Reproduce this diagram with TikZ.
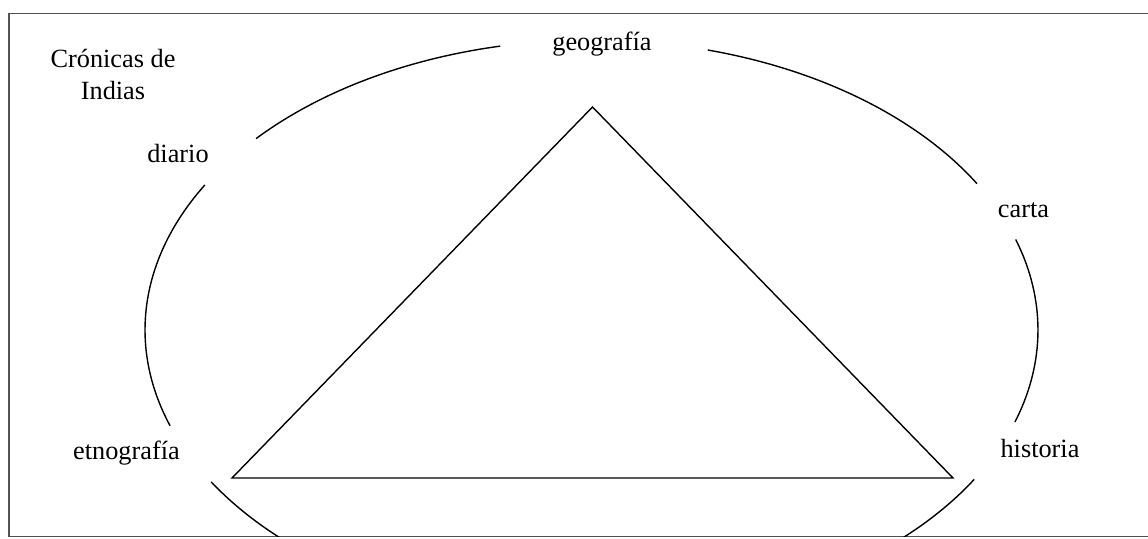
\documentclass[tikz,border=0pt]{standalone}
\usepackage{fontspec}
\setmainfont{Liberation Serif}
\usetikzlibrary{calc}
\begin{document}
\begin{tikzpicture}[x=1pt,y=1pt,
  lbl/.style={font=\fontsize{26.3}{32}\selectfont, inner sep=0pt, anchor=base, align=center},
  framestyle/.style={draw=black!68, line width=1.6pt},
  ell/.style={draw=black, line width=1.4pt},
  tri/.style={draw=black, line width=1.4pt, line join=miter}]
\useasboundingbox (0,0) rectangle (1148,538);
\clip (0,0) rectangle (1148,538);
% frame
\draw[framestyle] (1160,524.5) -- (9,524.5) -- (9,1.5) -- (1160,1.5);
% ellipse centre
\coordinate (C) at (591.5,208);
\begin{scope}
\clip (9,1.5) rectangle (1160,524.5);
\draw[ell] ($(C)+(101.8:446.5 and 290)$) arc[start angle=101.8, end angle=138.7, x radius=446.5, y radius=290];
\draw[ell] ($(C)+(150.0:446.5 and 290)$) arc[start angle=150.0, end angle=199.3, x radius=446.5, y radius=290];
\draw[ell] ($(C)+(211.6:446.5 and 290)$) arc[start angle=211.6, end angle=329.0, x radius=446.5, y radius=290];
\draw[ell] ($(C)+(-18.5:446.5 and 290)$) arc[start angle=-18.5, end angle=18.2, x radius=446.5, y radius=290];
\draw[ell] ($(C)+(30.3:446.5 and 290)$) arc[start angle=30.3, end angle=74.9, x radius=446.5, y radius=290];
\end{scope}
% triangle
\coordinate (apex) at (592.5,431);
\coordinate (bl) at (232,60);
\coordinate (br) at (953,60);
\draw[tri] (apex) -- (bl) -- (br) -- cycle;
% labels
\node[lbl] (cronicas) at (113,438) {Crónicas de\\Indias};
\node[lbl] (diario) at (178,375) {diario};
\node[lbl] (geo) at (602,487) {geografía};
\node[lbl] (carta) at (1023.5,320) {carta};
\node[lbl] (etno) at (126.5,78) {etnografía};
\node[lbl] (hist) at (1040,80.3) {historia};
\end{tikzpicture}
\end{document}
